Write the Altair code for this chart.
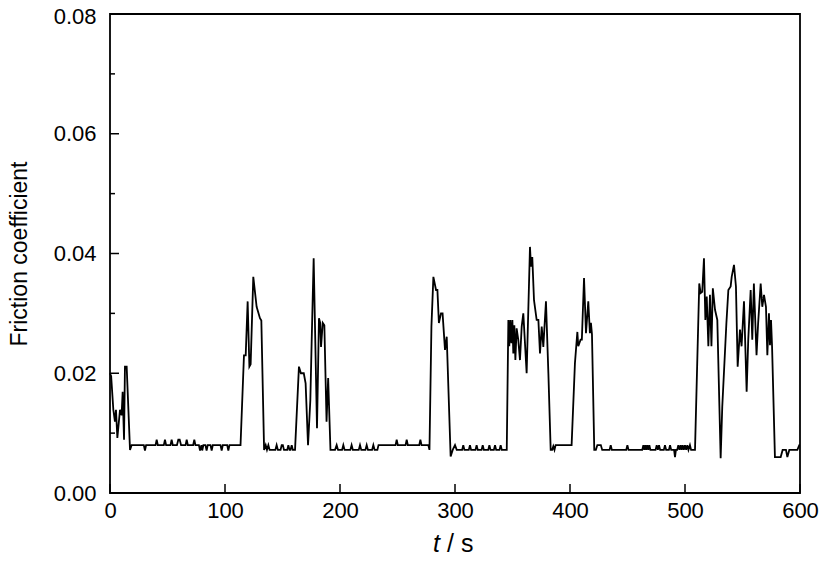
import altair as alt
import pandas as pd

# time (s) and friction coefficient
t_values = [
    0, 1, 2.9, 4.3, 5.2, 6.4, 8.7, 10.1, 11, 12.2, 13, 14.5, 17.4, 18.8,
    25, 29.4, 30.4, 31.4, 39.6, 40.6, 41.6, 46.8, 47.8, 48.8, 52.6, 53.6, 54.6,
    58.2, 59.4, 60.6, 61.8, 65.7, 66.7, 67.7, 72.3, 73.3, 74.3, 77.3, 78.3, 79.5,
    80.2, 81.2, 83, 84, 85, 87.4, 88.4, 89.4, 96.1, 97.1, 98.1, 101.9, 102.9, 103.9, 113.5,
    116.5, 118, 119.7, 121.2, 122.3, 124.6, 127.5, 130.4, 131.6, 134,
    135.4, 136.5, 137.7, 138.8, 143.8, 144.9, 146, 148.3, 149.3, 150.3, 151.3, 154.1,
    155.1, 156.1, 157, 158, 159, 160.9,
    164.3, 166, 168.5, 170.1, 172.2, 174.2, 175.4, 177.1, 180, 181.7, 182.8, 183.5,
    185, 186.4, 188.3, 189.7, 191.7,
    195.7, 197.1, 198.3, 201.8, 202.9, 204, 209, 210.1, 211.2, 216.3, 217.4, 218.5,
    222.1, 223.2, 224.3, 227.9, 229, 230.1, 232.5, 233.5,
    248.3, 249.3, 250.3, 257, 258, 259, 268.9, 269.9, 270.9, 276.8, 277.8,
    279.5, 281.2, 283.5, 284.7, 286, 287.8, 289.2, 291.3, 292.8, 296.2, 298, 300,
    301.5, 306.2, 307.2, 308.2, 312, 313, 314, 317.8, 318.8, 319.8, 323.1, 324.1, 325.1,
    328.9, 329.9, 330.9, 333.8, 334.8, 335.8, 338.7, 339.7, 340.7, 345,
    346.4, 347.2, 348.1, 349, 349.9, 350.7, 351.6, 352.5, 353.6, 355, 356.5, 358,
    359.4, 362.3, 365.2, 366.1, 367.2, 368.7, 371, 372.5, 373.9, 375.4, 376.8,
    379.1, 381.2, 383.2, 384.5, 385.5, 386.5, 387.5, 401.4,
    404.3, 406.4, 407.2, 409.2, 410.3, 412.2, 413.9, 415.9, 417.3, 418.2, 419.1, 421.1,
    422.5, 423.8, 426.8, 428, 434.4, 435.4, 436.4, 448.9, 449.9, 450.9, 462.8, 463.8,
    464.6, 465.5, 466.3, 467.2, 468.1, 469, 469.9, 474.4, 475.4, 476.4, 477.4, 478.4,
    481.6, 482.6, 483.6, 486, 487, 488, 490.5, 491.3, 492.1, 493.2, 494.2, 495.2,
    496.2, 497.1, 498, 499, 500, 501, 502, 503, 504.3, 505.3, 508.7,
    512.4, 513.6, 515, 516.5, 517.7, 518.9, 520.3, 521.7, 523, 524.2, 526.1, 528.1,
    531, 532.4, 536, 537.7, 539.7, 540.6, 542.6, 544.3, 545.8, 547.8, 549.2, 551.3,
    553.6, 555, 557.1, 558.5, 559.9, 562.2, 563.6, 565.8, 567.2, 568.7, 570.4, 571.6,
    573, 573.9, 574.8, 575.7, 578.2, 583.2, 584.9, 587.8, 589, 590.7, 597.7, 599.4, 600,
]
friction_values = [
    0.020, 0.0195, 0.0139, 0.0119, 0.0139, 0.0092, 0.0139, 0.0130, 0.0169, 0.0089, 0.0211, 0.0211, 0.0072, 0.008,
    0.008, 0.008, 0.0071, 0.008, 0.008, 0.0089, 0.008, 0.008, 0.0089, 0.008, 0.008, 0.0089, 0.008,
    0.008, 0.0089, 0.0089, 0.008, 0.008, 0.0089, 0.008, 0.008, 0.0089, 0.008, 0.008, 0.0071, 0.008,
    0.0071, 0.008, 0.008, 0.0071, 0.008, 0.008, 0.0071, 0.008, 0.008, 0.0071, 0.008, 0.008, 0.0071, 0.008, 0.008,
    0.023, 0.023, 0.032, 0.0211, 0.0215, 0.0361, 0.0311, 0.0292, 0.0288, 0.0072,
    0.008, 0.0072, 0.008, 0.0072, 0.0072, 0.008, 0.0072, 0.0072, 0.008, 0.008, 0.0072, 0.0072,
    0.008, 0.0072, 0.0072, 0.008, 0.0072, 0.0072,
    0.0211, 0.020, 0.020, 0.0183, 0.008, 0.0155, 0.0256, 0.0392, 0.0108, 0.0292, 0.0284, 0.0244,
    0.0284, 0.0280, 0.0119, 0.0192, 0.0072,
    0.0072, 0.008, 0.0072, 0.0072, 0.008, 0.0072, 0.0072, 0.008, 0.0072, 0.0072, 0.008, 0.0072,
    0.0072, 0.008, 0.0072, 0.0072, 0.008, 0.0072, 0.0072, 0.008,
    0.008, 0.0089, 0.008, 0.008, 0.0089, 0.008, 0.008, 0.0089, 0.008, 0.008, 0.0072,
    0.0278, 0.0361, 0.0339, 0.0339, 0.0284, 0.030, 0.030, 0.0239, 0.0261, 0.0061, 0.0072, 0.008,
    0.0072, 0.0072, 0.008, 0.0072, 0.0072, 0.008, 0.0072, 0.0072, 0.008, 0.0072, 0.0072, 0.008, 0.0072,
    0.0072, 0.008, 0.0072, 0.0072, 0.008, 0.0072, 0.0072, 0.008, 0.0072, 0.0072,
    0.0289, 0.0245, 0.0289, 0.025, 0.0289, 0.0233, 0.0280, 0.0222, 0.0275, 0.0256, 0.0222, 0.0278,
    0.030, 0.020, 0.0411, 0.0378, 0.0394, 0.0322, 0.0289, 0.0289, 0.0233, 0.0278, 0.0244,
    0.032, 0.020, 0.0072, 0.0072, 0.0078, 0.0072, 0.008, 0.008,
    0.0217, 0.0269, 0.0245, 0.0256, 0.0256, 0.0359, 0.0267, 0.032, 0.0267, 0.0284, 0.0265, 0.0072,
    0.0072, 0.008, 0.008, 0.0072, 0.0072, 0.008, 0.0072, 0.0072, 0.008, 0.0072, 0.0072, 0.008,
    0.0072, 0.008, 0.0072, 0.008, 0.0072, 0.008, 0.0072, 0.0072, 0.008, 0.0072, 0.008, 0.0072,
    0.0072, 0.008, 0.0072, 0.0072, 0.008, 0.0072, 0.0072, 0.006, 0.0072, 0.0072, 0.008, 0.0072,
    0.008, 0.0072, 0.008, 0.0072, 0.008, 0.0072, 0.008, 0.0072, 0.008, 0.0072, 0.0072,
    0.035, 0.0334, 0.0336, 0.0392, 0.0289, 0.0328, 0.0245, 0.0331, 0.0245, 0.0342, 0.0306, 0.0289,
    0.0058, 0.0144, 0.0284, 0.0339, 0.0345, 0.0361, 0.0381, 0.0345, 0.0211, 0.0273, 0.0245, 0.032,
    0.0169, 0.0256, 0.0339, 0.0256, 0.035, 0.023, 0.0284, 0.035, 0.0311, 0.0331, 0.0311, 0.023,
    0.0300, 0.0247, 0.0289, 0.0245, 0.006, 0.006, 0.0072, 0.0072, 0.006, 0.0072, 0.0072, 0.008, 0.008,
]

x_ticks = [0, 100, 200, 300, 400, 500, 600]
y_major = [0.00, 0.02, 0.04, 0.06, 0.08]
y_minor = [0.01, 0.03, 0.05, 0.07]

FONT = "Liberation Sans"
W, H = 690, 479

df = pd.DataFrame({"t": t_values, "f": friction_values})

x_scale = alt.Scale(domain=[0, 600], nice=False, zero=False)
y_scale = alt.Scale(domain=[0, 0.08], nice=False)

line = alt.Chart(df).mark_line(color="black", strokeWidth=1.8).encode(
    x=alt.X("t:Q", scale=x_scale,
            axis=alt.Axis(values=x_ticks, title=None, labelPadding=7, labelFlush=False)),
    y=alt.Y("f:Q", scale=y_scale,
            axis=alt.Axis(values=y_major, format=".2f", title="Friction coefficient",
                          labelPadding=14, titlePadding=22, labelFlush=False,
                          labelOffset={"condition": {"test": "datum.value >= 0.079", "value": 2},
                                       "value": 0})),
)

xt = alt.Chart(pd.DataFrame({"v": x_ticks})).mark_rule(color="black", strokeWidth=1.5).encode(
    x=alt.X("v:Q", scale=x_scale), y=alt.value(H), y2=alt.value(H - 9)
)
yt_major = alt.Chart(pd.DataFrame({"v": y_major})).mark_rule(color="black", strokeWidth=1.5).encode(
    y=alt.Y("v:Q", scale=y_scale), x=alt.value(0), x2=alt.value(9)
)
yt_minor = alt.Chart(pd.DataFrame({"v": y_minor})).mark_rule(color="black", strokeWidth=1.5).encode(
    y=alt.Y("v:Q", scale=y_scale), x=alt.value(0), x2=alt.value(5)
)

title_t = alt.Chart(pd.DataFrame({"s": ["t"]})).mark_text(
    font=FONT, fontSize=25, fontStyle="italic", align="left", baseline="alphabetic", color="black"
).encode(text="s:N", x=alt.value(323), y=alt.value(538))
title_s = alt.Chart(pd.DataFrame({"s": ["/ s"]})).mark_text(
    font=FONT, fontSize=25, align="left", baseline="alphabetic", color="black"
).encode(text="s:N", x=alt.value(337), y=alt.value(538))

chart = alt.layer(line, xt, yt_major, yt_minor, title_t, title_s).properties(
    width=W, height=H,
    autosize=alt.AutoSizeParams(type="none"),
    padding={"left": 102, "top": 6, "right": 19, "bottom": 65},
).configure_view(
    stroke="black", strokeWidth=1.8
).configure_axis(
    labelFont=FONT, labelFontSize=22, labelColor="black",
    titleFont=FONT, titleFontSize=23, titleFontWeight="normal", titleColor="black",
    ticks=False, domain=False, grid=False,
)

chart.save("out.html", embed_options={"renderer": "svg", "actions": False})
